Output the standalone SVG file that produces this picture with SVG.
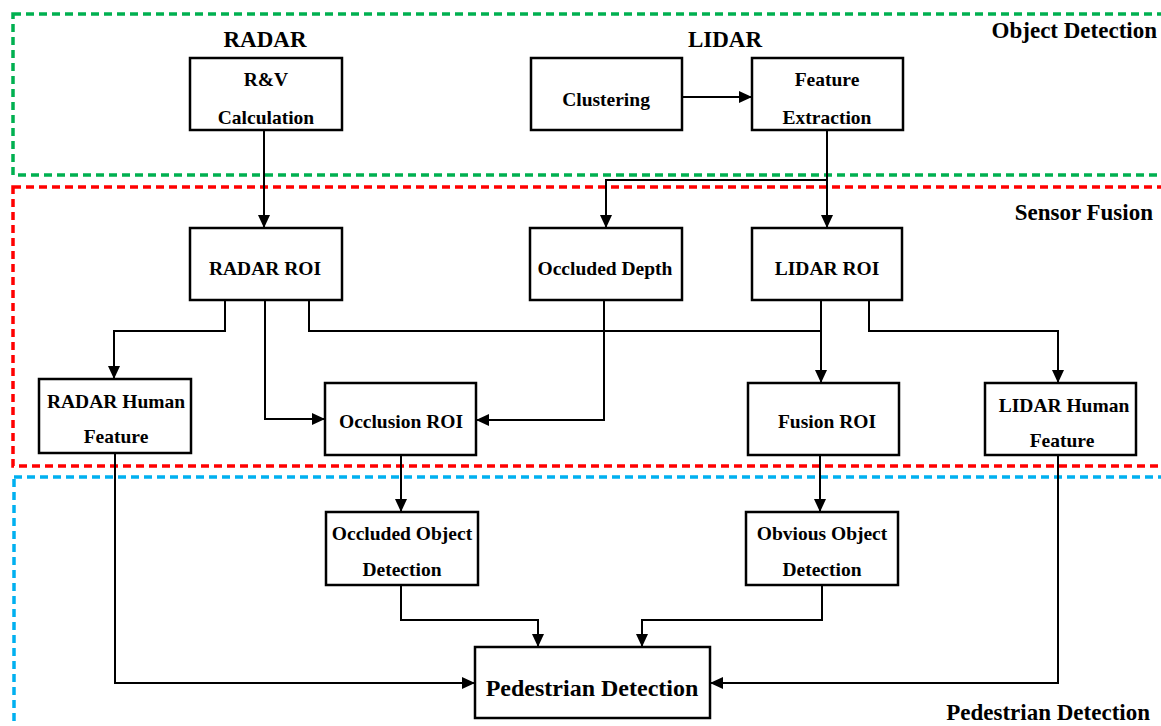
<svg xmlns="http://www.w3.org/2000/svg" width="1161" height="726" viewBox="0 0 1161 726">
<style>
.box{fill:#fff;stroke:#000;stroke-width:2.5}
.t{font-family:"Liberation Serif","Times New Roman",serif;font-weight:bold;font-size:19.5px;fill:#000;text-anchor:middle}
.lbl{font-family:"Liberation Serif","Times New Roman",serif;font-weight:bold;font-size:23px;fill:#000}
.c{fill:none;stroke:#000;stroke-width:2}
.zone{fill:none;stroke-width:3.5;stroke-dasharray:8 5}
</style>
<defs>
<marker id="ah" markerUnits="userSpaceOnUse" markerWidth="14" markerHeight="12" refX="13" refY="6" orient="auto">
<path d="M0,0 L13,6 L0,12 z" fill="#000"/>
</marker>
</defs>
<rect width="1161" height="726" fill="#fff"/>
<g id="zones">
<rect class="zone" x="13" y="14" width="1200" height="161" stroke="#00b050"/>
<rect class="zone" x="13" y="187" width="1200" height="279" stroke="#ff0000"/>
<rect class="zone" x="14" y="477" width="1200" height="300" stroke="#00b0f0"/>
</g>
<g id="labels">
<text class="lbl" x="265" y="47" text-anchor="middle">RADAR</text>
<text class="lbl" x="725" y="47" text-anchor="middle">LIDAR</text>
<text class="lbl" x="1157" y="38" text-anchor="end">Object Detection</text>
<text class="lbl" x="1153" y="220" text-anchor="end">Sensor Fusion</text>
<text class="lbl" x="1150" y="720" text-anchor="end">Pedestrian Detection</text>
</g>
<g id="connectors">
<path class="c" d="M264,131 V228" marker-end="url(#ah)"/>
<path class="c" d="M682,97 H752" marker-end="url(#ah)"/>
<path class="c" d="M827,131 V228" marker-end="url(#ah)"/>
<path class="c" d="M827,180 H606 V228" marker-end="url(#ah)"/>
<path class="c" d="M225,300 V331 H114 V379" marker-end="url(#ah)"/>
<path class="c" d="M265,300 V419 H325" marker-end="url(#ah)"/>
<path class="c" d="M309,300 V331 H821"/>
<path class="c" d="M604,300 V420 H476" marker-end="url(#ah)"/>
<path class="c" d="M821,300 V383" marker-end="url(#ah)"/>
<path class="c" d="M869,300 V331 H1058 V383" marker-end="url(#ah)"/>
<path class="c" d="M401,455 V512" marker-end="url(#ah)"/>
<path class="c" d="M820,455 V512" marker-end="url(#ah)"/>
<path class="c" d="M401,585 V620 H538 V647" marker-end="url(#ah)"/>
<path class="c" d="M822,585 V620 H642 V647" marker-end="url(#ah)"/>
<path class="c" d="M115,453 V683 H475" marker-end="url(#ah)"/>
<path class="c" d="M1058,455 V683 H710" marker-end="url(#ah)"/>
</g>
<g id="rv">
<rect class="box" x="190" y="58" width="152" height="72"/>
<text class="t" x="266" y="86">R&amp;V</text>
<text class="t" x="266" y="124">Calculation</text>
</g>
<g id="clustering">
<rect class="box" x="531" y="58" width="151" height="72"/>
<text class="t" x="606" y="106">Clustering</text>
</g>
<g id="featext">
<rect class="box" x="752" y="58" width="151" height="72"/>
<text class="t" x="827" y="86">Feature</text>
<text class="t" x="827" y="124">Extraction</text>
</g>
<g id="radarroi">
<rect class="box" x="190" y="228" width="152" height="72"/>
<text class="t" x="265" y="275">RADAR ROI</text>
</g>
<g id="occdepth">
<rect class="box" x="530" y="228" width="152" height="72"/>
<text class="t" x="605" y="275">Occluded Depth</text>
</g>
<g id="lidarroi">
<rect class="box" x="752" y="228" width="150" height="72"/>
<text class="t" x="827" y="275">LIDAR ROI</text>
</g>
<g id="radarhf">
<rect class="box" x="39" y="379" width="152" height="74"/>
<text class="t" x="116" y="408">RADAR Human</text>
<text class="t" x="116" y="443">Feature</text>
</g>
<g id="occroi">
<rect class="box" x="325" y="383" width="151" height="72"/>
<text class="t" x="401" y="428">Occlusion ROI</text>
</g>
<g id="fusionroi">
<rect class="box" x="748" y="383" width="151" height="72"/>
<text class="t" x="827" y="428">Fusion ROI</text>
</g>
<g id="lidarhf">
<rect class="box" x="985" y="383" width="151" height="72"/>
<text class="t" x="1064" y="412">LIDAR Human</text>
<text class="t" x="1062" y="447">Feature</text>
</g>
<g id="occobj">
<rect class="box" x="326" y="512" width="152" height="73"/>
<text class="t" x="402" y="540">Occluded Object</text>
<text class="t" x="402" y="576">Detection</text>
</g>
<g id="obvobj">
<rect class="box" x="746" y="512" width="152" height="73"/>
<text class="t" x="822" y="540">Obvious Object</text>
<text class="t" x="822" y="576">Detection</text>
</g>
<g id="pedestrian">
<rect class="box" x="475" y="647" width="235" height="71"/>
<text class="t" x="592" y="696" style="font-size:24px">Pedestrian Detection</text>
</g>
</svg>
